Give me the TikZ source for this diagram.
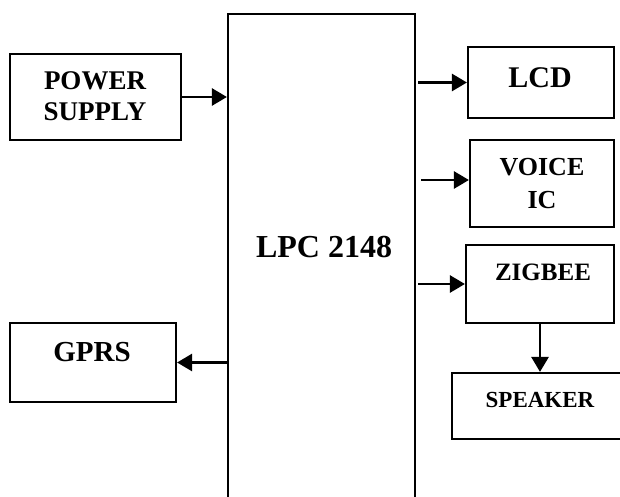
\documentclass[tikz,border=0pt]{standalone}
\usepackage{fontspec}
\setmainfont{Liberation Serif}
\usetikzlibrary{arrows.meta}
\begin{document}
\begin{tikzpicture}[x=1pt,y=-1pt,
  box/.style={draw,line width=2.2pt,inner sep=0pt,rectangle},
  lbl/.style={inner sep=0pt,align=center},
  arr/.style={line width=2.8pt,-{Triangle[length=15pt,width=17pt]}}]
\useasboundingbox (0,0) rectangle (620,497);
\clip (0,0) rectangle (620,497);
% boxes
\node[box,minimum width=187pt,minimum height=496pt] (lpc) at (321.5,262) {};
\node[box,minimum width=171pt,minimum height=86pt] (ps) at (95.5,97) {};
\node[box,minimum width=146pt,minimum height=71pt] (lcd) at (541,82.5) {};
\node[box,minimum width=144pt,minimum height=87pt] (voice) at (542,183.5) {};
\node[box,minimum width=148pt,minimum height=78pt] (zig) at (540,284) {};
\node[box,minimum width=178pt,minimum height=66pt] (spk) at (541,406) {};
\node[box,minimum width=166pt,minimum height=79pt] (gprs) at (93,362.5) {};
% labels
\node[lbl,font=\fontsize{32}{36}\selectfont\bfseries] (lpcT) at (324,247) {LPC 2148};
\node[lbl,font=\fontsize{27}{31}\selectfont\bfseries] (psT) at (95,96.5) {POWER\\SUPPLY};
\node[lbl,font=\fontsize{30}{34}\selectfont\bfseries] (lcdT) at (540,78) {LCD};
\node[lbl,font=\fontsize{26}{33}\selectfont\bfseries] (voiceT) at (542,183.5) {VOICE\\IC};
\node[lbl,font=\fontsize{25}{29}\selectfont\bfseries] (zigT) at (543,272) {ZIGBEE};
\node[lbl,font=\fontsize{23}{27}\selectfont\bfseries] (spkT) at (540,400) {SPEAKER};
\node[lbl,font=\fontsize{29}{33}\selectfont\bfseries] (gprsT) at (92,352) {GPRS};
% connectors
\draw[arr] (ps.east) -- (ps.east -| lpc.west);
\draw[arr] ([xshift=2pt]lpc.east |- lcd.west) -- (lcd.west);
\draw[arr] ([xshift=5pt,yshift=3.5pt]lpc.east |- voice.west) -- ([yshift=3.5pt]voice.west);
\draw[arr] ([xshift=2pt]lpc.east |- zig.west) -- (zig.west);
\draw[arr] (lpc.west |- gprs.east) -- (gprs.east);
\draw[arr] (zig.south) -- (zig.south |- spk.north);
\end{tikzpicture}
\end{document}
